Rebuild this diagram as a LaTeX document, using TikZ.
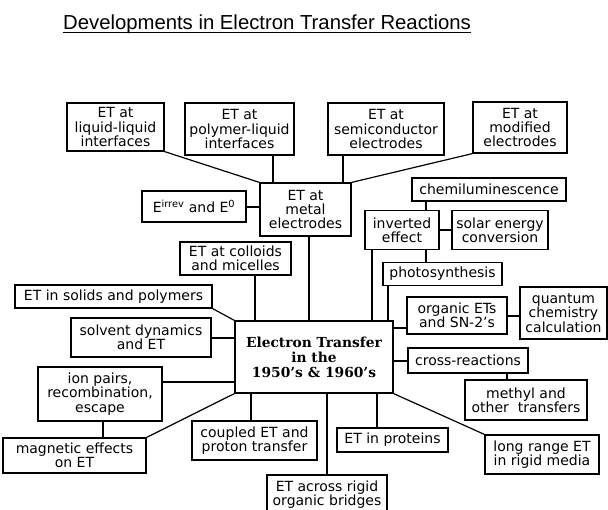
\documentclass[tikz,border=0pt]{standalone}
\usepackage{fontspec}
\setmainfont{DejaVu Sans}
\newfontfamily\titlefont{Liberation Sans}
\newfontfamily\centerfont{DejaVu Serif}
\begin{document}
\begin{tikzpicture}[x=1pt,y=-1pt,
  bx/.style={draw, line width=1.2pt, inner sep=0pt, align=center,
    font=\fontsize{14}{14.4}\selectfont},
  ln/.style={line width=1.2pt}]
\useasboundingbox (0,0) rectangle (608,510);
\fill[white] (0,0) rectangle (608,510);

% title
\node[font=\titlefont\fontsize{20.3}{24}\selectfont, inner sep=0pt, anchor=base] (title) at (267,29.5) {Developments in Electron Transfer Reactions};
\draw[line width=1.1pt] ([yshift=-3.2pt]title.base west) -- ([yshift=-3.2pt]title.base east);

% boxes
\node[bx, minimum width=97pt, minimum height=48pt] (ll) at (115.5,127) {ET at\\liquid-liquid\\interfaces};
\node[bx, minimum width=109pt, minimum height=52pt] (pl) at (239.5,129) {ET at\\polymer-liquid\\interfaces};
\node[bx, minimum width=116pt, minimum height=52pt] (sc) at (386,129) {ET at\\semiconductor\\electrodes};
\node[bx, minimum width=94pt, minimum height=51pt] (mod) at (520,127.5) {ET at\\modified\\electrodes};
\node[bx, minimum width=91pt, minimum height=53pt] (metal) at (305.5,209.5) {ET at\\metal\\electrodes};
\node[bx, minimum width=104pt, minimum height=31pt] (eirr) at (194,206.5) {E\textsuperscript{irrev} and E\textsuperscript{0}};
\node[bx, minimum width=154pt, minimum height=23pt] (chemi) at (489,189.5) {chemiluminescence};
\node[bx, minimum width=74pt, minimum height=39pt] (inv) at (402,230) {inverted\\effect};
\node[bx, minimum width=96pt, minimum height=39pt] (solar) at (500,230) {solar energy\\conversion};
\node[bx, minimum width=119pt, minimum height=23pt] (photo) at (442.5,274) {photosynthesis};
\node[bx, minimum width=111pt, minimum height=33pt] (coll) at (235.5,258.5) {ET at colloids\\and micelles};
\node[bx, minimum width=197pt, minimum height=23pt] (solids) at (113.5,296.5) {ET in solids and polymers};
\node[bx, minimum width=140pt, minimum height=39pt] (solvent) at (141,337.5) {solvent dynamics\\and ET};
\node[bx, minimum width=158pt, minimum height=72pt,
  font=\centerfont\bfseries\fontsize{13.8}{15}\selectfont] (ctr) at (314,357) {Electron Transfer\\in the\\1950’s \& 1960’s};
\node[bx, minimum width=100pt, minimum height=37pt] (org) at (457,315.5) {organic ETs\\and SN-2’s};
\node[bx, minimum width=87pt, minimum height=52pt] (quant) at (563.5,313) {quantum\\chemistry\\calculation};
\node[bx, minimum width=120pt, minimum height=25pt] (cross) at (468,360.5) {cross-reactions};
\node[bx, minimum width=122pt, minimum height=40pt] (methyl) at (526,400) {methyl and\\other\ \ transfers};
\node[bx, minimum width=124pt, minimum height=54pt] (ion) at (100,394) {ion pairs,\\recombination,\\escape};
\node[bx, minimum width=143pt, minimum height=35pt] (mag) at (74.5,455.5) {magnetic effects\\on ET};
\node[bx, minimum width=125pt, minimum height=39pt] (coupled) at (254.5,440.5) {coupled ET and\\proton transfer};
\node[bx, minimum width=120pt, minimum height=39pt] (bridges) at (327,494.5) {ET across rigid\\organic bridges};
\node[bx, minimum width=111pt, minimum height=24pt] (prot) at (392.5,440) {ET in proteins};
\node[bx, minimum width=114pt, minimum height=39pt] (long) at (542,454.5) {long range ET\\in rigid media};

% guide coordinates
\coordinate (v273) at (273,0);
\coordinate (v343) at (343,0);
\coordinate (v309) at (309,0);
\coordinate (v426) at (426,0);
\coordinate (v372) at (372,0);
\coordinate (v388) at (388,0);
\coordinate (v255) at (255,0);
\coordinate (v103) at (103,0);
\coordinate (v251) at (251,0);
\coordinate (v327) at (327,0);
\coordinate (v377) at (377,0);
\coordinate (v507) at (507,0);
\coordinate (h207) at (0,207);
\coordinate (h230) at (0,230);
\coordinate (h338) at (0,338);
\coordinate (h382) at (0,382);
\coordinate (h328) at (0,328);
\coordinate (h316) at (0,316);
\coordinate (h361) at (0,361);

% vertical connectors
\draw[ln] (v273 |- pl.south) -- (v273 |- metal.north);
\draw[ln] (v343 |- sc.south) -- (v343 |- metal.north);
\draw[ln] (v309 |- metal.south) -- (v309 |- ctr.north);
\draw[ln] (v426 |- chemi.south) -- (v426 |- inv.north);
\draw[ln] (v426 |- inv.south) -- (v426 |- photo.north);
\draw[ln] (v372 |- inv.south) -- (v372 |- ctr.north);
\draw[ln] (v388 |- photo.south) -- (v388 |- ctr.north);
\draw[ln] (v255 |- coll.south) -- (v255 |- ctr.north);
\draw[ln] (v103 |- ion.south) -- (v103 |- mag.north);
\draw[ln] (v251 |- ctr.south) -- (v251 |- coupled.north);
\draw[ln] (v327 |- ctr.south) -- (v327 |- bridges.north);
\draw[ln] (v377 |- ctr.south) -- (v377 |- prot.north);
\draw[ln] (v507 |- cross.south) -- (v507 |- methyl.north);

% horizontal connectors
\draw[ln] (h207 -| eirr.east) -- (h207 -| metal.west);
\draw[ln] (h230 -| inv.east) -- (h230 -| solar.west);
\draw[ln] (h338 -| solvent.east) -- (h338 -| ctr.west);
\draw[ln] (h382 -| ion.east) -- (h382 -| ctr.west);
\draw[ln] (h328 -| ctr.east) -- (h328 -| org.west);
\draw[ln] (h316 -| org.east) -- (h316 -| quant.west);
\draw[ln] (h361 -| ctr.east) -- (h361 -| cross.west);

% diagonal connectors
\draw[ln] (ll.south east) -- (metal.north west);
\draw[ln] (mod.south west) -- (metal.north east);
\draw[ln] (solids.south east) -- (ctr.north west);
\draw[ln] (mag.north east) -- (ctr.south west);
\draw[ln] (ctr.south east) -- (long.north west);
\end{tikzpicture}
\end{document}
